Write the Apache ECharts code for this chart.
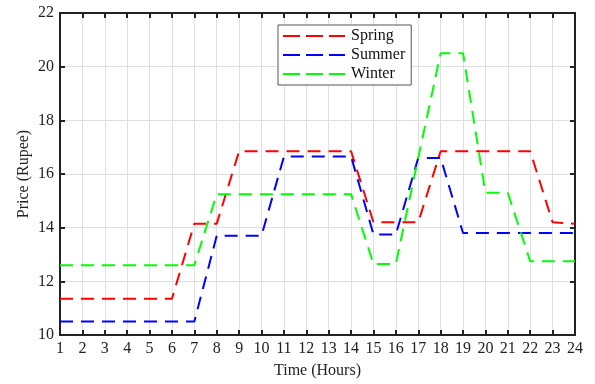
<!DOCTYPE html>
<html>
<head>
<meta charset="utf-8">
<script src="https://cdn.jsdelivr.net/npm/echarts@6/dist/echarts.min.js"></script>
<style>
  html, body { margin: 0; padding: 0; background: #fff; }
  #chart { width: 595px; height: 384px; }
</style>
</head>
<body>
<div id="chart"></div>
<script>
// Hourly electricity price per season
const hours = [1,2,3,4,5,6,7,8,9,10,11,12,13,14,15,16,17,18,19,20,21,22,23,24];
const spring = [11.35,11.35,11.35,11.35,11.35,11.35,14.15,14.15,16.85,16.85,16.85,16.85,16.85,16.85,14.2,14.2,14.2,16.85,16.85,16.85,16.85,16.85,14.2,14.15];
const summer = [10.5,10.5,10.5,10.5,10.5,10.5,10.5,13.7,13.7,13.7,16.65,16.65,16.65,16.65,13.75,13.75,16.6,16.6,13.8,13.8,13.8,13.8,13.8,13.8];
const winter = [12.6,12.6,12.6,12.6,12.6,12.6,12.6,15.25,15.25,15.25,15.25,15.25,15.25,15.25,12.65,12.65,16.6,20.5,20.5,15.3,15.3,12.75,12.75,12.75];
const seriesNames = ['Spring', 'Summer', 'Winter'];
const seriesColors = ['#ff0000', '#0000ff', '#00ff00'];

const font = 'Liberation Serif';
const pairs = vals => hours.map((h, i) => [h, vals[i]]);

// three-dash sample drawn in the legend
const dashIcon = 'path://M0,0 L17,0 L17,2 L0,2 Z M23,0 L40,0 L40,2 L23,2 Z M46,0 L62,0 L62,2 L46,2 Z';

const chart = echarts.init(document.getElementById('chart'), null, { renderer: 'canvas' });

const gridLine = { show: true, lineStyle: { color: '#e0e0e0', width: 1 } };
const frameLine = { show: true, onZero: false, lineStyle: { color: '#222', width: 2 } };
const innerTick = { show: true, inside: true, length: 5, lineStyle: { color: '#222', width: 2 } };

chart.setOption({
  animation: false,
  textStyle: { fontFamily: font },
  grid: { left: 60, right: 20, top: 13, bottom: 49, containLabel: false },
  legend: {
    data: seriesNames,
    orient: 'vertical',
    left: 278, top: 25,
    itemWidth: 62, itemHeight: 2, itemGap: 3,
    padding: [3, 6, 3, 5],
    backgroundColor: '#fff',
    borderColor: '#555', borderWidth: 1,
    textStyle: { fontFamily: font, fontSize: 16, color: '#111', padding: [0, 0, 0, 1] },
    icon: dashIcon
  },
  xAxis: [
    {
      type: 'value', min: 1, max: 24, interval: 1,
      name: 'Time (Hours)', nameLocation: 'middle', nameGap: 28,
      nameMoveOverlap: false,
      nameTextStyle: { fontFamily: font, fontSize: 16, color: '#222' },
      axisLine: frameLine,
      axisTick: innerTick,
      axisLabel: { fontFamily: font, fontSize: 16, color: '#222', margin: 6 },
      splitLine: gridLine
    },
    {
      type: 'value', min: 1, max: 24, interval: 1, position: 'top',
      axisLine: frameLine,
      axisTick: innerTick,
      axisLabel: { show: false },
      splitLine: { show: false }
    }
  ],
  yAxis: [
    {
      type: 'value', min: 10, max: 22, interval: 2,
      name: 'Price (Rupee)', nameLocation: 'middle', nameGap: 28,
      nameMoveOverlap: false,
      nameTextStyle: { fontFamily: font, fontSize: 16, color: '#222' },
      axisLine: frameLine,
      axisTick: innerTick,
      axisLabel: { fontFamily: font, fontSize: 16, color: '#222', margin: 6 },
      splitLine: gridLine
    },
    {
      type: 'value', min: 10, max: 22, interval: 2, position: 'right',
      axisLine: frameLine,
      axisTick: innerTick,
      axisLabel: { show: false },
      splitLine: { show: false }
    }
  ],
  series: [spring, summer, winter].map((vals, i) => ({
    name: seriesNames[i],
    type: 'line',
    data: pairs(vals),
    showSymbol: false,
    symbol: 'none',
    color: seriesColors[i],
    lineStyle: { color: seriesColors[i], width: 2, type: [13, 8] },
    z: 3 + i
  }))
});
</script>
</body>
</html>
